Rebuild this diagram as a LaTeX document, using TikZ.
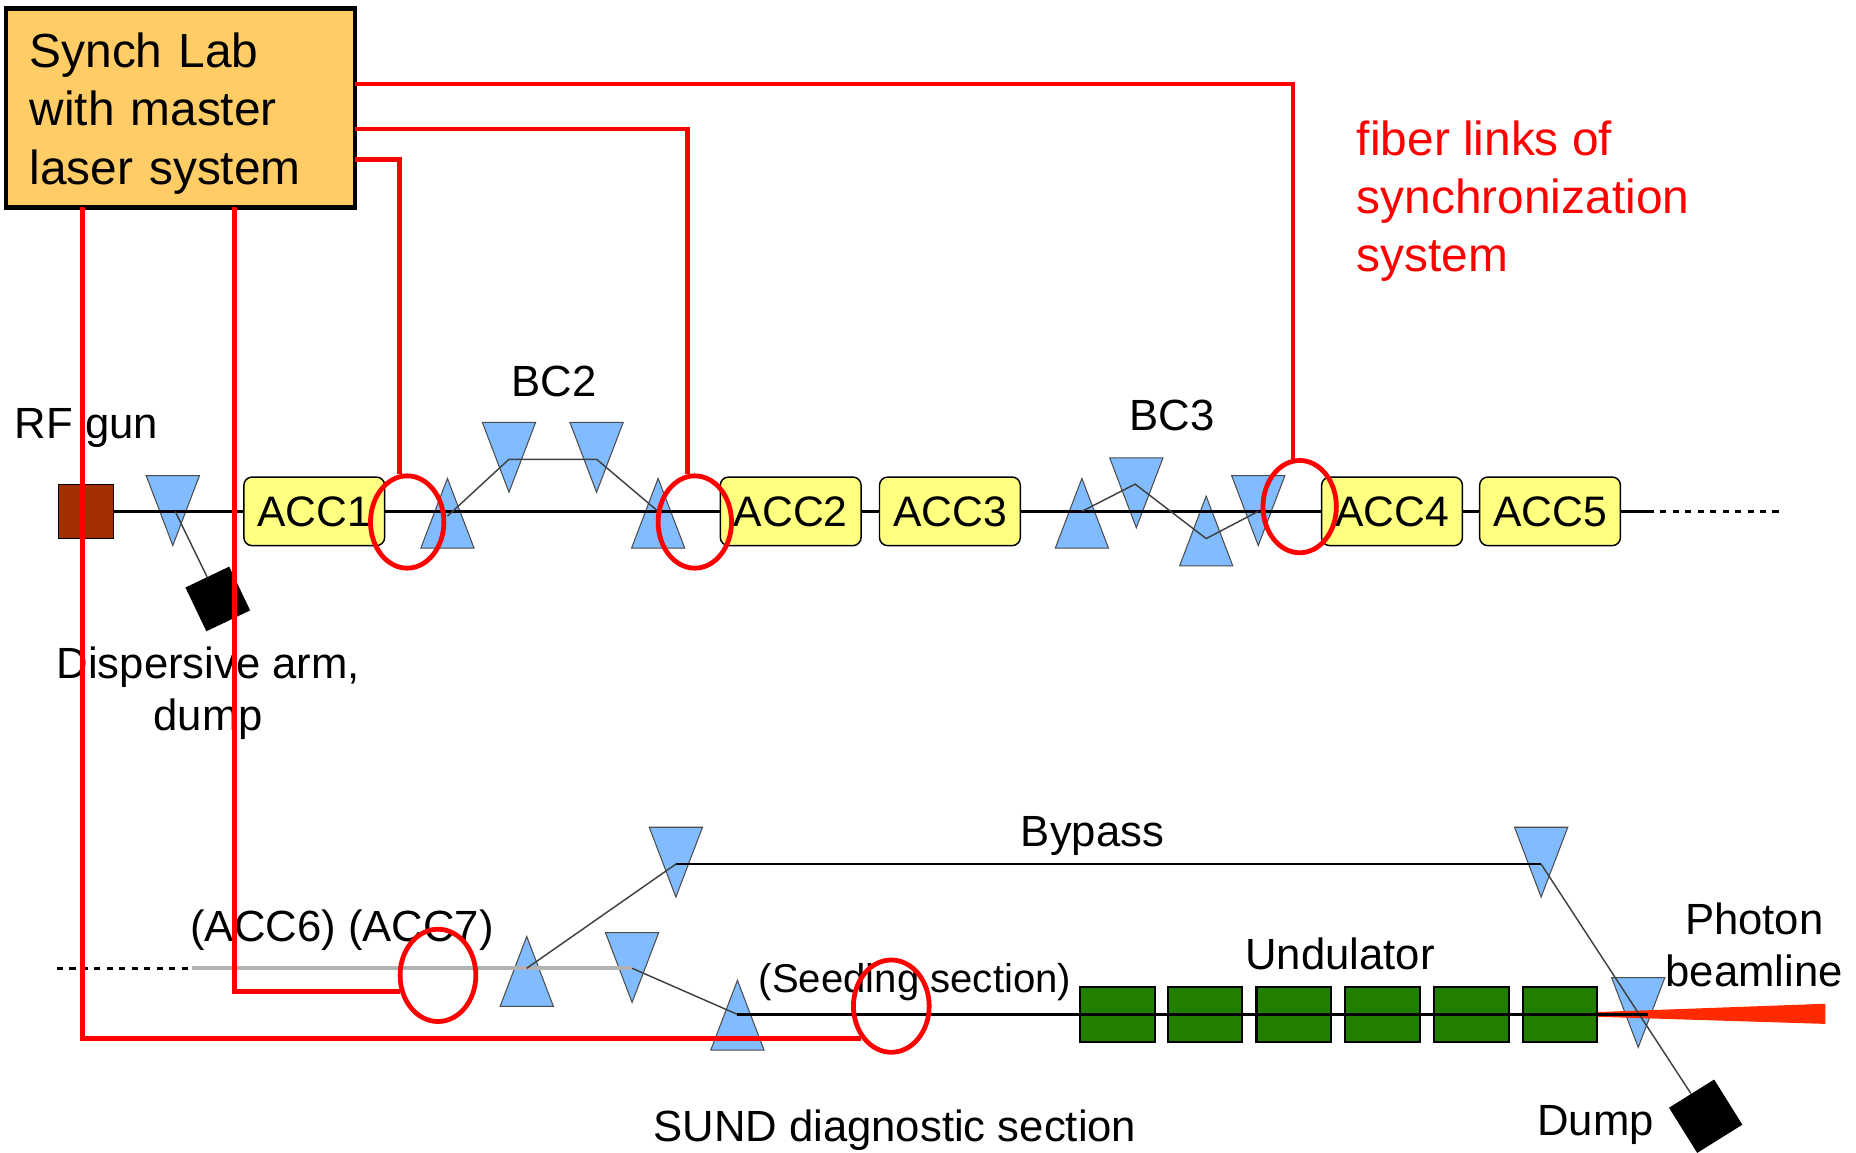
\documentclass[tikz,border=0pt]{standalone}
\usepackage{fontspec}
\setmainfont{Liberation Sans}
\usetikzlibrary{shapes,positioning}
\definecolor{synchorange}{HTML}{FFCC66}
\definecolor{accyellow}{HTML}{FFFF80}
\definecolor{dipoleblue}{HTML}{80BCFF}
\definecolor{gunbrown}{HTML}{A33000}
\definecolor{undgreen}{HTML}{217F00}
\definecolor{photonred}{HTML}{FF2A00}
\tikzset{
    lab/.style={inner sep=0pt, font=\fontsize{21}{25}\selectfont, align=center},
    accbox/.style={draw=black, fill=accyellow, rounded corners=4pt, line width=0.7pt, inner sep=0pt,
        minimum width=2.38cm, minimum height=1.16cm, font=\fontsize{20.5}{24}\selectfont},
    undbox/.style={draw=black, fill=undgreen, line width=1pt, inner sep=0pt,
        minimum width=1.26cm, minimum height=0.92cm},
    dumpbox/.style={fill=black, inner sep=0pt},
    dipole/.style={isosceles triangle, isosceles triangle stretches, inner sep=0pt,
        minimum width=0.9cm, minimum height=1.18cm, anchor=apex, fill=dipoleblue, draw=black!70, line width=0.5pt},
    dipoleup/.style={dipole, shape border rotate=90},
    dipoledown/.style={dipole, shape border rotate=-90},
    beam/.style={draw=black, line width=1.1pt},
    chicane/.style={draw=black!75, line width=0.7pt},
    fiber/.style={draw=red, line width=2.3pt},
    ring/.style={ellipse, draw=red, line width=2.3pt, inner sep=0pt}
}
\begin{document}
\begin{tikzpicture}[x=0.02cm,y=-0.02cm]
\useasboundingbox (0,0) rectangle (1568,974);
% dipoles
\foreach \name/\x/\y in {
    dipB/378/403,
    dipE/556/403,
    dipF/914/403,
    dipH/1019/418,
    dipK/445/790,
    dipN/623/827} {
    \node[dipoleup] (\name) at (\x,\y) {};
}
\foreach \name/\x/\y in {
    dipA/146/462,
    dipC/430/417,
    dipD/504/417,
    dipG/960/447,
    dipJ/1063/462,
    dipL/534/848,
    dipM/571/759,
    dipP/1302/759,
    dipQ/1384/886} {
    \node[dipoledown] (\name) at (\x,\y) {};
}
% Upper line
\node[draw=black, fill=gunbrown, inner sep=0pt, minimum width=0.94cm, minimum height=0.92cm] (gun) at (72.5,432) {};
\node[accbox] (accA) at (265.5,432) {ACC1};
\node[accbox] (accB) at (668,432) {ACC2};
\node[accbox] (accC) at (802.5,432) {ACC3};
\node[accbox] (accD) at (1176,432) {ACC4};
\node[accbox] (accE) at (1309.5,432) {ACC5};
\node[dumpbox, minimum size=0.82cm, rotate=25.5] (dumpA) at (184,506) {};
\coordinate (tapA) at (148,432);
\coordinate (beamEnd) at (1392,432);
\coordinate (dashEnd) at (1505,432);
\draw[beam] (gun) -- (accA);
\draw[beam] (accA) -- (accB);
\draw[beam] (accB) -- (accC);
\draw[beam] (accC) -- (accD);
\draw[beam] (accD) -- (accE);
\draw[beam] (accE) -- (beamEnd);
\draw[draw=black, line width=1.2pt, dashed] (beamEnd) -- (dashEnd);
\draw[chicane] (tapA) -- (dumpA);
% BC2 and BC3 chicanes
\coordinate (bcTwoA) at (378,436);
\coordinate (bcTwoB) at (430,388);
\coordinate (bcTwoC) at (504,388);
\coordinate (bcTwoD) at (556,432);
\draw[chicane] (bcTwoA) -- (bcTwoB) -- (bcTwoC) -- (bcTwoD);
\coordinate (bcThreeA) at (914,432);
\coordinate (bcThreeB) at (959,409);
\coordinate (bcThreeC) at (1019,455);
\coordinate (bcThreeD) at (1063,432);
\draw[chicane] (bcThreeA) -- (bcThreeB) -- (bcThreeC) -- (bcThreeD);
% Lower line
\coordinate (lowStart) at (48,818);
\coordinate (lowGrey) at (162,818);
\coordinate (lowSplit) at (445,818);
\coordinate (lowTurn) at (534,818);
\coordinate (seedIn) at (623,857);
\coordinate (undEnd) at (1392,857);
\coordinate (byIn) at (571,730);
\coordinate (byOut) at (1302,730);
\foreach \name/\x in {
    undA/944,
    undB/1018,
    undC/1093,
    undD/1168,
    undE/1243,
    undF/1318} {
    \node[undbox] (\name) at (\x,857) {};
}
\node[dumpbox, minimum size=0.9cm, rotate=32] (dumpB) at (1441,943) {};
\fill[photonred] (1350,855) -- (1542,848) -- (1542,865) -- (1350,859) -- cycle;
\draw[draw=black, line width=1.2pt, dashed] (lowStart) -- (lowGrey);
\draw[draw=black!30, line width=1.8pt] (lowGrey) -- (lowTurn);
\draw[chicane] (lowSplit) -- (byIn);
\draw[beam] (byIn) -- (byOut);
\draw[chicane] (byOut) -- (dumpB);
\draw[chicane] (lowTurn) -- (seedIn);
\draw[beam] (seedIn) -- (undEnd);
% Labels
\node[lab] (rfLabel) at (73,362) {RF gun};
\node[lab] (bcTwoLabel) at (468,322) {BC2};
\node[lab] (bcThreeLabel) at (990,351) {BC3};
\node[lab] (armLabel) at (176,586) {Dispersive arm,\\dump};
\node[lab] (byLabel) at (923,706) {Bypass};
\node[lab] (accLowLabel) at (289,786) {(ACC6) (ACC7)};
\node[lab, font=\fontsize{19.3}{23}\selectfont] (seedLabel) at (773,830) {(Seeding section)};
\node[lab] (undLabel) at (1132,806) {Undulator};
\node[lab] (photonLabel) at (1482,798) {Photon\\beamline};
\node[lab] (sundLabel) at (756,955) {SUND diagnostic section};
\node[lab] (dumpLabel) at (1348,950) {Dump};
% Synch lab and fiber links
\node[draw=black, fill=synchorange, line width=2.3pt, inner xsep=0.4cm, inner ysep=0pt, text width=5.1cm,
    minimum height=3.36cm, align=left, font=\fontsize{23}{28}\selectfont] (synch) at (152.5,91) {\rule{0pt}{22.2pt}Synch Lab\\with master\\laser system};
\node[anchor=west, inner sep=0pt, align=left, text=red, font=\fontsize{23}{28}\selectfont] (fiberLabel) at (1146,170) {fiber links of\\synchronization\\system};
\node[ring, minimum width=1.24cm, minimum height=1.56cm] (ringA) at (344,441) {};
\node[ring, minimum width=1.24cm, minimum height=1.56cm] (ringB) at (587,441) {};
\node[ring, minimum width=1.24cm, minimum height=1.56cm] (ringC) at (1098,428) {};
\node[ring, minimum width=1.28cm, minimum height=1.56cm] (ringD) at (370,824) {};
\node[ring, minimum width=1.28cm, minimum height=1.56cm] (ringE) at (753,850) {};
\coordinate (outA) at (300,135);
\coordinate (outB) at (300,109);
\coordinate (outC) at (300,71);
\coordinate (outD) at (198,175);
\coordinate (outE) at (70,175);
\draw[fiber] (outA) -| (ringA.99);
\draw[fiber] (outB) -| (ringB.99);
\draw[fiber] (outC) -| (ringC.98);
\draw[fiber] (outD) |- (ringD.203);
\draw[fiber] (outE) |- (ringE.227.5);
\end{tikzpicture}
\end{document}
